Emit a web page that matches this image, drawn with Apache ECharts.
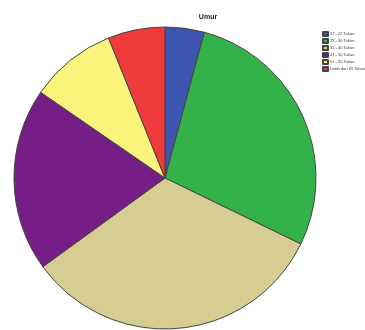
<!DOCTYPE html>
<html>
<head>
<meta charset="utf-8">
<script src="https://cdn.jsdelivr.net/npm/echarts@6/dist/echarts.min.js"></script>
<style>html,body{margin:0;padding:0;background:#fff;}#c{width:365px;height:330px;}</style>
</head>
<body>
<div id="c"></div>
<script>
const categories = ["17 - 22 Tahun", "23 - 30 Tahun", "31 - 40 Tahun", "41 - 50 Tahun", "51 - 65 Tahun", "Lebih dari 65 Tahun"];
const values = [4.2, 28.0, 32.8, 19.6, 9.3, 6.1];
const colors = ["#3e55b0", "#33b24a", "#d5cd92", "#741e86", "#faf37c", "#ef3b3b"];

const chart = echarts.init(document.getElementById('c'), null, {renderer: 'canvas'});
chart.setOption({
  animation: false,
  backgroundColor: '#ffffff',
  title: {
    text: 'Umur',
    left: 203, top: 9, textAlign: 'center',
    textStyle: {fontFamily: 'Liberation Sans', fontSize: 7, fontWeight: 'bold', color: '#222'}
  },
  legend: {
    orient: 'vertical',
    left: 317, top: 26,
    itemWidth: 5, itemHeight: 4, itemGap: 1,
    icon: 'rect',
    textStyle: {fontFamily: 'Liberation Sans', fontSize: 4, color: '#333', padding: [0,0,0,-3]},
    data: categories
  },
  series: [{
    type: 'pie',
    center: [165, 178],
    radius: 151,
    startAngle: 90,
    clockwise: true,
    label: {show: false},
    labelLine: {show: false},
    itemStyle: {borderColor: '#444', borderWidth: 1},
    emphasis: {disabled: true},
    data: categories.map((c, i) => ({name: c, value: values[i], itemStyle: {color: colors[i]}}))
  }]
});
</script>
</body>
</html>
